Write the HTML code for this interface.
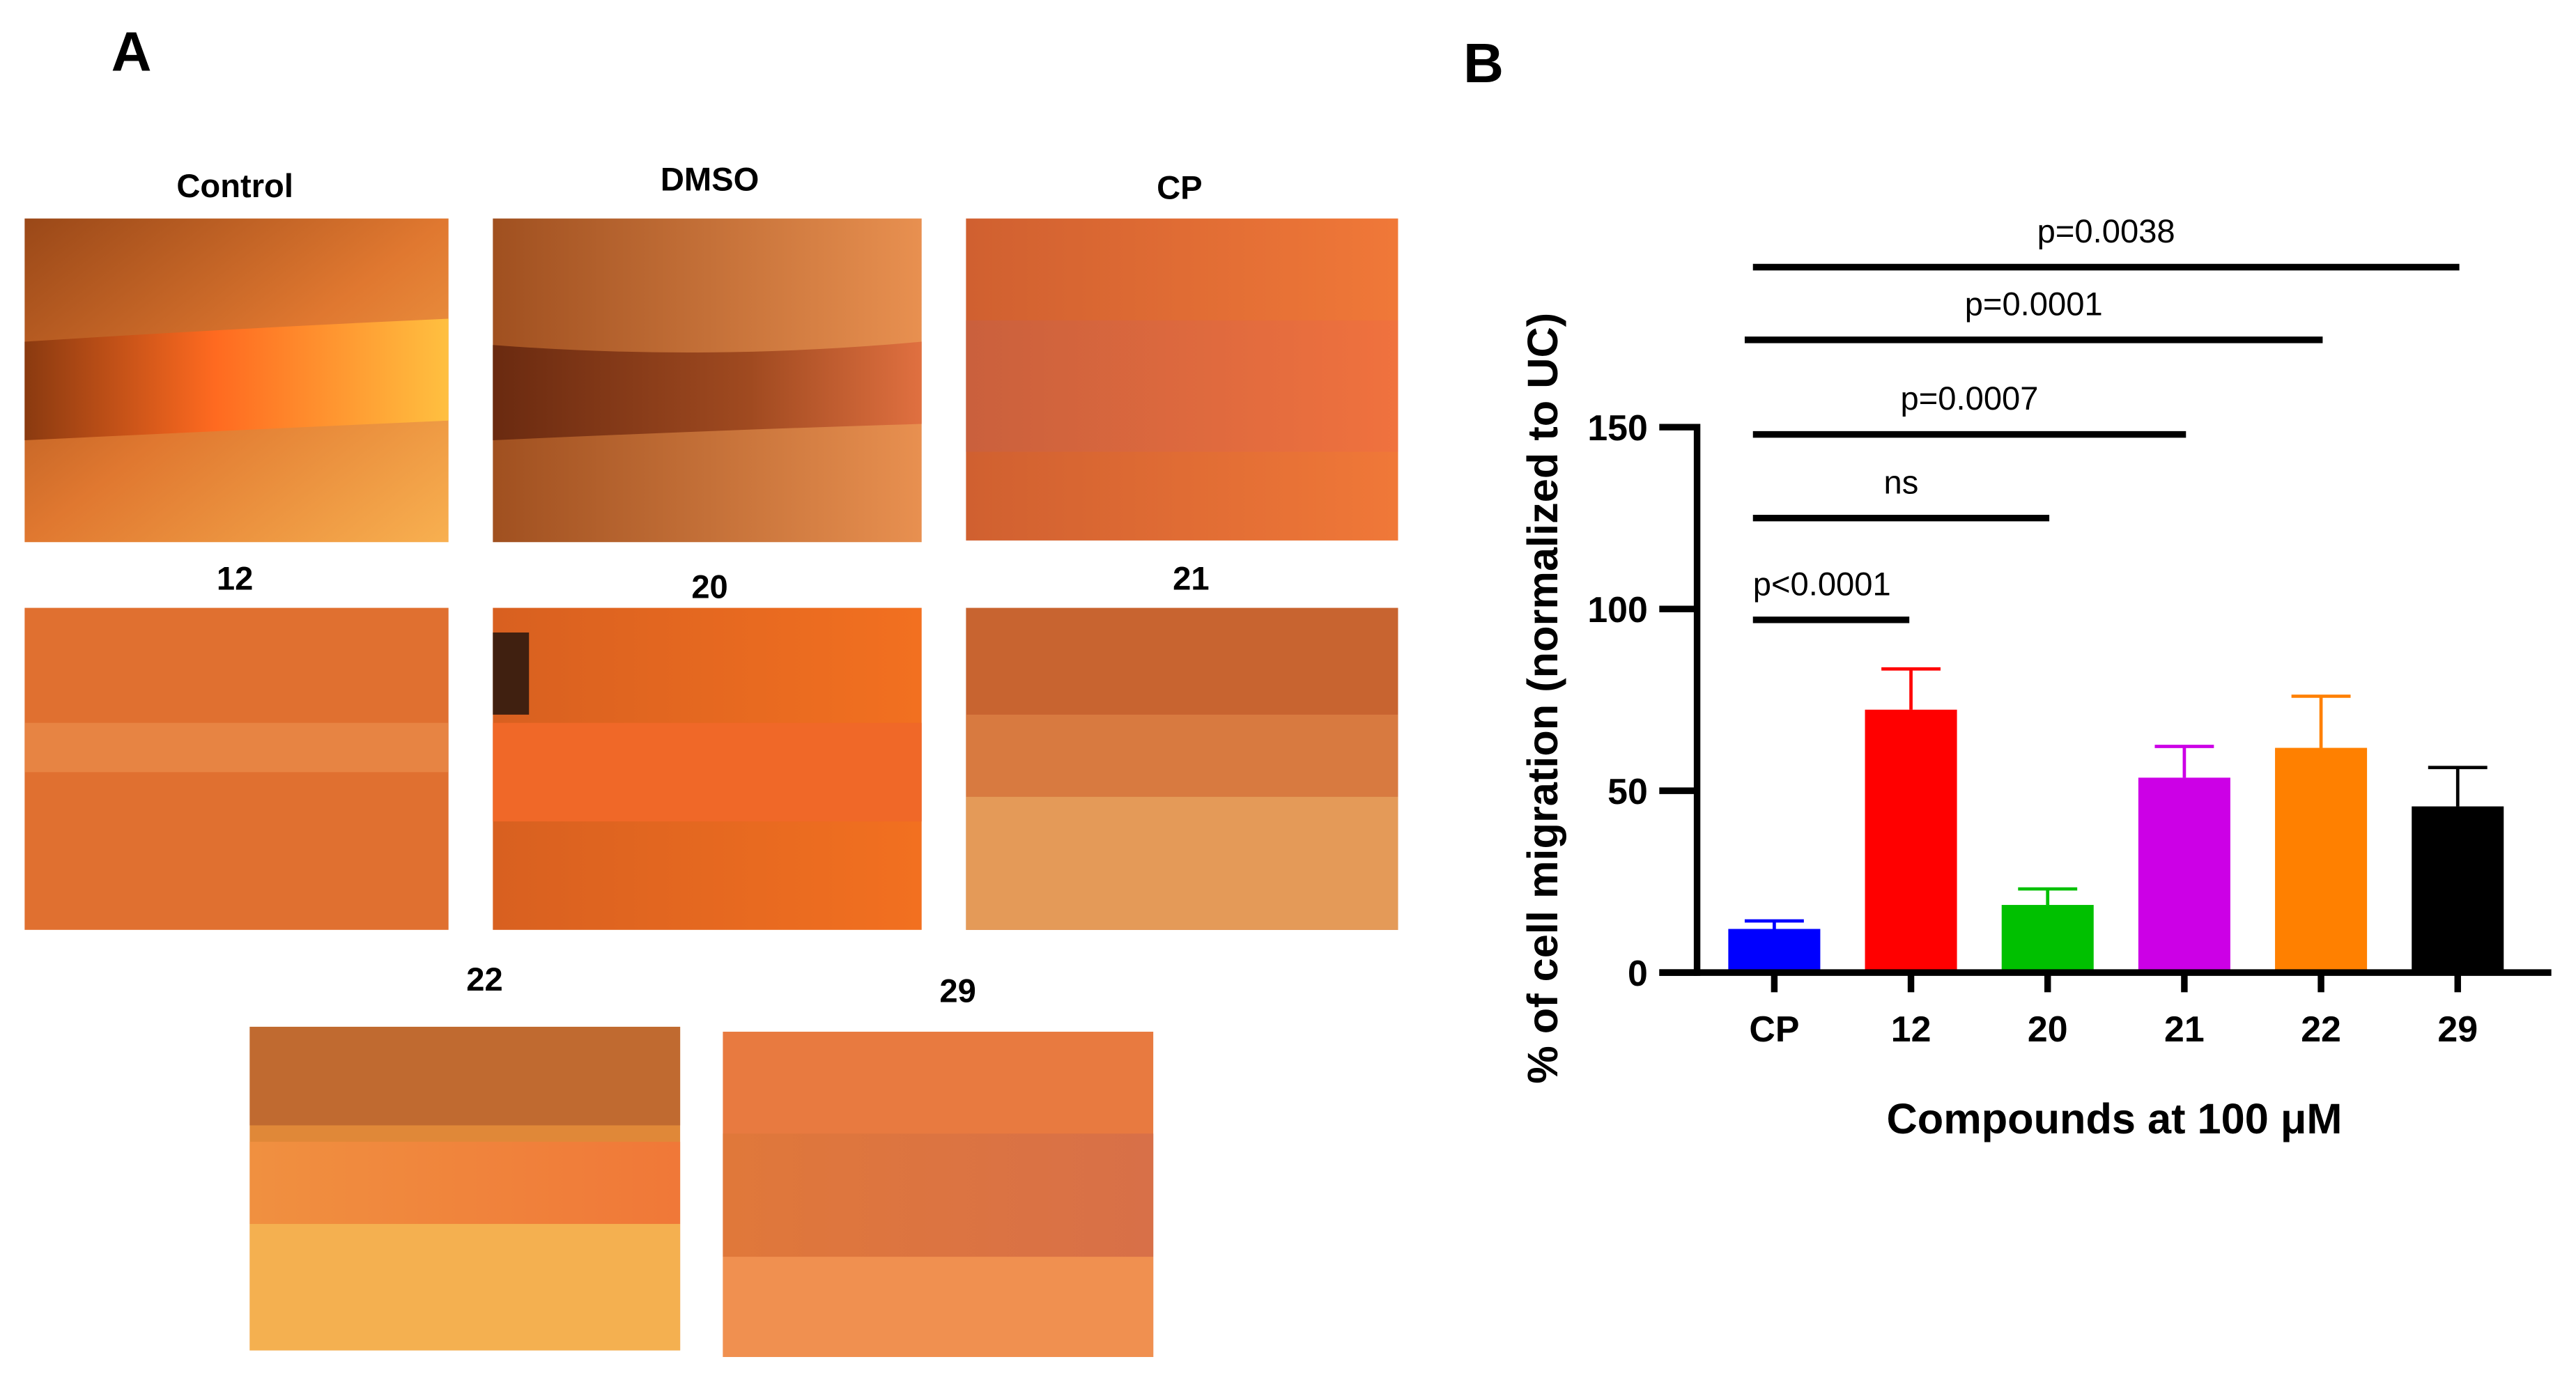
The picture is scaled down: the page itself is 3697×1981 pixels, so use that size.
<!DOCTYPE html>
<html><head><meta charset="utf-8"><style>
html,body{margin:0;padding:0;background:#fff;}
svg{display:block;font-family:"Liberation Sans",Arial,sans-serif;}
</style></head><body>
<svg id="fig" width="3697" height="1981" viewBox="0 0 1568 840" preserveAspectRatio="none">
<defs>
<linearGradient id="hctl" x1="0" x2="1"><stop offset="0" stop-color="#8a3a10"/><stop offset="0.45" stop-color="#ff6a20"/><stop offset="1" stop-color="#ffc040"/></linearGradient>
<linearGradient id="cellA" x1="0" x2="1" y1="0" y2="1"><stop offset="0" stop-color="#9a4818"/><stop offset="0.5" stop-color="#e07830"/><stop offset="1" stop-color="#f8b050"/></linearGradient>
<linearGradient id="cellB" x1="0" x2="1"><stop offset="0" stop-color="#a05020"/><stop offset="1" stop-color="#e89050"/></linearGradient>
<linearGradient id="cellC" x1="0" x2="1"><stop offset="0" stop-color="#d06030"/><stop offset="1" stop-color="#f07838"/></linearGradient>
<linearGradient id="cellD" x1="0" x2="1"><stop offset="0" stop-color="#d86020"/><stop offset="1" stop-color="#f27020"/></linearGradient>
<linearGradient id="gapB" x1="0" x2="1"><stop offset="0" stop-color="#6a2a10"/><stop offset="0.6" stop-color="#a04a20"/><stop offset="1" stop-color="#e07040"/></linearGradient>
<linearGradient id="gapC" x1="0" x2="1"><stop offset="0" stop-color="#c86040"/><stop offset="1" stop-color="#f07040"/></linearGradient>
<linearGradient id="gapE" x1="0" x2="1"><stop offset="0" stop-color="#e0783a"/><stop offset="1" stop-color="#d87048"/></linearGradient>
<linearGradient id="gapF" x1="0" x2="1"><stop offset="0" stop-color="#f09040"/><stop offset="1" stop-color="#f07838"/></linearGradient>
</defs>

<text x="80" y="43" font-size="34" font-weight="bold" text-anchor="middle">A</text>
<text x="903" y="50" font-size="34" font-weight="bold" text-anchor="middle">B</text>

<g font-size="20" font-weight="bold" text-anchor="middle">
<text x="143" y="120">Control</text>
<text x="432" y="116">DMSO</text>
<text x="718" y="121">CP</text>
<text x="143" y="359">12</text>
<text x="432" y="364">20</text>
<text x="725" y="359">21</text>
<text x="295" y="603">22</text>
<text x="583" y="610">29</text>
</g>

<g>
<rect x="15" y="133" width="258" height="197" fill="url(#cellA)"/>
<path d="M15 208 Q140 200 273 194 L273 256 Q140 262 15 268 Z" fill="url(#hctl)"/>
</g>
<g>
<rect x="300" y="133" width="261" height="197" fill="url(#cellB)"/>
<path d="M300 210 Q430 220 561 208 L561 258 Q430 262 300 268 Z" fill="url(#gapB)"/>
</g>
<g>
<rect x="588" y="133" width="263" height="196" fill="url(#cellC)"/>
<rect x="588" y="195" width="263" height="80" fill="url(#gapC)" opacity="0.8"/>
</g>
<g>
<rect x="15" y="370" width="258" height="196" fill="#e07030"/>
<rect x="15" y="440" width="258" height="30" fill="#e88a48" opacity="0.8"/>
</g>
<g>
<rect x="300" y="370" width="261" height="196" fill="url(#cellD)"/>
<rect x="300" y="440" width="261" height="60" fill="#f06828"/>
<rect x="300" y="385" width="22" height="50" fill="#402010"/>
</g>
<g>
<rect x="588" y="370" width="263" height="196" fill="#c86430"/>
<rect x="588" y="435" width="263" height="50" fill="#d87a40"/>
<rect x="588" y="485" width="263" height="81" fill="#e49a58"/>
</g>
<g>
<rect x="152" y="625" width="262" height="197" fill="#e08838"/>
<rect x="152" y="625" width="262" height="60" fill="#c06a30"/>
<rect x="152" y="695" width="262" height="50" fill="url(#gapF)"/>
<rect x="152" y="745" width="262" height="77" fill="#f4b050"/>
</g>
<g>
<rect x="440" y="628" width="262" height="198" fill="#e87a40"/>
<rect x="440" y="690" width="262" height="75" fill="url(#gapE)"/>
<rect x="440" y="765" width="262" height="61" fill="#f09050"/>
</g>

<g id="chart"></g>
</svg>
<script>
const categories = ["CP","12","20","21","22","29"];
const values = [12, 72.3, 18.6, 53.6, 61.8, 45.7];
const errors = [2.2, 11.2, 4.4, 8.6, 14.2, 10.7];
const colors = ["#0000ff","#ff0000","#00c000","#cc00e6","#ff8000","#000000"];
const yTicks = [0, 50, 100, 150];
const sigFrom = [0,0,0,0,0];
const sigTo = [1,2,3,4,5];
const sigLevel = [97, 125, 148, 174, 194];
const sigLabels = ["p<0.0001","ns","p=0.0007","p=0.0001","p=0.0038"];

const NS = "http://www.w3.org/2000/svg";
const g = document.getElementById("chart");
const y0 = 592, pxPer = 332/150, axX = 1033, x0 = 1080, step = 83.2, bw = 56;
const yS = v => y0 - v*pxPer;
const xS = i => x0 + i*step;
function mk(tag, attrs, parent){const e=document.createElementNS(NS,tag);for(const k in attrs)e.setAttribute(k,attrs[k]);(parent||g).appendChild(e);return e;}

categories.forEach((c,i)=>{
  const x = xS(i);
  const eb = mk("g",{stroke:colors[i],"stroke-width":2});
  
  
  mk("line",{x1:x,x2:x,y1:yS(values[i]),y2:yS(values[i]+errors[i])},eb);
  mk("line",{x1:x-18,x2:x+18,y1:yS(values[i]+errors[i]),y2:yS(values[i]+errors[i])},eb);
  const r = mk("rect",{x:x-bw/2,y:yS(values[i]),width:bw,height:values[i]*pxPer,fill:colors[i]});
  
  
  const t = mk("line",{x1:x,x2:x,y1:y0,y2:y0+12,stroke:"#000","stroke-width":4});
  
  
  const l = mk("text",{x:x,y:y0+42,"font-size":22,"font-weight":"bold","text-anchor":"middle"});
  
  
  l.textContent = c;
});
const xa = mk("line",{x1:1010,x2:1553,y1:y0,y2:y0,stroke:"#000","stroke-width":4});


const ya = mk("line",{x1:axX,x2:axX,y1:y0+2,y2:yS(150)-2,stroke:"#000","stroke-width":4});


yTicks.forEach(v=>{
  const t = mk("line",{x1:1010,x2:axX,y1:yS(v),y2:yS(v),stroke:"#000","stroke-width":4});
  
  
  const l = mk("text",{x:1003,y:yS(v)+8,"font-size":22,"font-weight":"bold","text-anchor":"end"});
  
  
  l.textContent = v;
});
sigLabels.forEach((s,i)=>{
  const xa1 = xS(sigFrom[i]) - 13 - (i===3?5:0), xb = xS(sigTo[i]) + (i===0?-1:1);
  const y = yS(sigLevel[i]);
  const ln = mk("line",{x1:xa1,x2:xb,y1:y,y2:y,stroke:"#000","stroke-width":4});
  
  
  const tx = i===0 ? mk("text",{x:xa1,y:y-15,"font-size":20}) : mk("text",{x:(xa1+xb)/2,y:y-15,"font-size":20,"text-anchor":"middle"});
  
  
  tx.textContent = s;
});
const xt = mk("text",{x:1287,y:690,"font-size":26,"font-weight":"bold","text-anchor":"middle"});


xt.textContent = "Compounds at 100 \u03bcM";
const yt = mk("text",{x:0,y:0,"font-size":26,"font-weight":"bold","text-anchor":"middle",transform:"translate(948,425) rotate(-90)"});


yt.textContent = "% of cell migration (normalized to UC)";
</script>
</body></html>
